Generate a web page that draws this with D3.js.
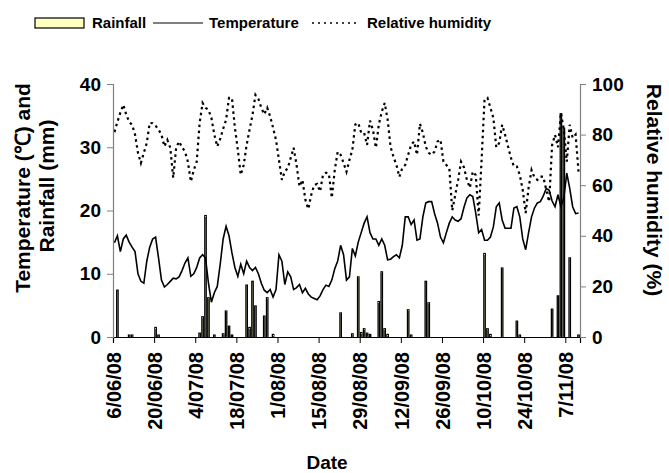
<!DOCTYPE html>
<html>
<meta charset="utf-8">
<head>
  <script src="https://d3js.org/d3.v7.min.js"></script>
  <style>
    body { margin: 0; background: #fff; }
    text { font-family: "Liberation Sans", Arial, sans-serif; font-weight: bold; fill: #000; }
  </style>
</head>
<body>
<div id="chart"></div>
<script>

var startDate = new Date(2008, 5, 6);
var endDate = new Date(2008, 10, 12);

// daily values, 6/06/08 .. 11/11/08
var temperature = [
  14.9, 16, 13.5, 15.5, 16.1, 15, 14.2, 13.5, 10, 8.8,
  8.5, 12, 14.2, 15.5, 15.8, 12.5, 9, 7.9, 8.3, 8.8,
  9.3, 9.2, 9.5, 10.5, 11.7, 12.5, 9.6, 10, 11, 12.5,
  13, 12.5, 8.5, 5.5, 7, 8, 11.5, 15.5, 17.5, 16,
  13.3, 11, 9.6, 11.5, 10, 12, 11, 10.5, 11, 10,
  8.5, 7.4, 7, 7.5, 6.3, 7.5, 13, 12, 8.3, 10.3,
  9.5, 7.5, 7.8, 8.3, 7, 7.7, 6.8, 6.3, 6.1, 5.9,
  6.5, 7.5, 8.2, 8, 9, 10.8, 12, 14.5, 13, 9,
  9.5, 14, 12.8, 15, 16.5, 18, 19, 16.5, 15.5, 15.5,
  14.5, 15.5, 14.5, 12.2, 12.3, 12.7, 13, 12.5, 14.5, 19,
  19, 17.8, 18.5, 15.3, 15.5, 19, 21.2, 21.4, 21.4, 19.5,
  18, 15.8, 14.9, 16.5, 18, 19, 18.5, 18.3, 18.7, 20.5,
  22, 22.5, 22.2, 19.6, 16.5, 17, 15.3, 15.3, 15.8, 17.4,
  20.6, 21.2, 18.5, 17.2, 17.2, 17.2, 20.4, 20.6, 19, 15.5,
  13.8, 16.5, 19, 20.4, 21.2, 21.4, 22.3, 23.5, 23.2, 21.5,
  20.6, 22.5, 20.6, 22, 25.9, 23.5, 20.6, 19.5, 19.6
];

var humidity = [
  81, 85, 88.7, 91.8, 88, 85, 83.9, 80, 72.8, 68.8,
  72.8, 76.7, 84.6, 84.5, 83.5, 82, 80, 75.3, 77.9, 74.8,
  62.9, 74.8, 77.3, 75, 73.3, 69.3, 61.4, 66, 69.3, 84.6,
  92.5, 90.6, 89.8, 86.6, 80, 75.3, 78.3, 82.3, 85.8, 94.5,
  94.5, 82.7, 74, 64.1, 68, 75.9, 82, 87.8, 95.7, 94.1,
  90.6, 88, 90.6, 87.2, 82.7, 77.9, 70, 62.1, 65.4, 66.8,
  70.8, 74.8, 68, 59.5, 62.1, 54.2, 50.6, 56.2, 60.1, 60.5,
  57.5, 64.1, 64.9, 64.5, 55, 66, 73.2, 72, 68.8, 65.3,
  70, 74, 84, 84.6, 80.7, 80.7, 75.9, 85.5, 81.9, 74.8,
  83.9, 89, 92.5, 86, 75.2, 71.2, 68, 63.3, 66.8, 68,
  72, 75.9, 77.3, 72, 84.3, 80.7, 75.2, 72.8, 72, 73.3,
  77.3, 78, 69.3, 68, 66.8, 50, 56, 62.1, 69.3, 67,
  62.1, 59, 65.4, 64, 48, 70, 94, 94.5, 90.6, 86.6,
  75, 76.7, 83.9, 79.9, 75.3, 70.8, 67.4, 67.4, 64.1, 58.1,
  49, 59, 66, 63, 62.1, 63.4, 63.4, 58.1, 53.5, 75.9,
  79.9, 75, 88.6, 81.9, 69.3, 83.9, 78.7, 80, 65.4
];

var rainfall = [
  0, 7.4, 0, 0, 0, 0.3, 0.3, 0, 0, 0,
  0, 0, 0, 0, 1.5, 0.3, 0, 0, 0, 0,
  0, 0, 0, 0, 0, 0, 0, 0, 0, 0.6,
  3.2, 19.2, 6.2, 0, 0.3, 0, 0, 0.5, 4.1, 1.7,
  0.3, 0, 0, 0, 0, 8.2, 1.5, 8.8, 4.9, 0,
  0, 3.3, 6.2, 0, 0.4, 0, 0, 0, 0, 0,
  0, 0, 0, 0, 0, 0, 0, 0, 0, 0,
  0, 0, 0, 0, 0, 0, 0, 3.8, 0, 0,
  0, 0.5, 0, 9.5, 0.7, 1.3, 0.6, 0.4, 0, 0,
  5.6, 10.3, 1.3, 0.4, 0, 0, 0, 0, 0, 0,
  4.3, 0.3, 0, 0, 0, 0, 8.8, 5.4, 0, 0,
  0, 0, 0, 0, 0, 0, 0, 0, 0, 0,
  0, 0, 0, 0, 0, 0, 13.2, 1.3, 0.4, 0,
  0, 0, 10.9, 0, 0, 0, 0, 2.5, 0.3, 0,
  0, 0, 0, 0, 0, 0, 0, 0, 0, 4.4,
  0, 6.5, 35.3, 33, 0, 12.5, 0, 0, 0.3
];

var leftTicks = [0, 10, 20, 30, 40];
var rightTicks = [0, 20, 40, 60, 80, 100];

var width = 669, height = 473;
var plotL = 113, plotR = 580, plotT = 84, plotB = 337;

var days = d3.timeDay.range(startDate, endDate);
var data = days.map(function(d, i) {
  return { date: d, mid: d3.timeHour.offset(d, 12), temp: temperature[i], rh: humidity[i], rain: rainfall[i] };
});

var x = d3.scaleTime().domain([startDate, endDate]).range([plotL, plotR]);
var yLeft = d3.scaleLinear().domain([0, 40]).range([plotB, plotT]);
var yRight = d3.scaleLinear().domain([0, 100]).range([plotB, plotT]);
var dayW = x(d3.timeDay.offset(startDate, 1)) - x(startDate);

var svg = d3.select("#chart").append("svg")
  .attr("width", width)
  .attr("height", height);

// rainfall bars (narrow, so the black outline fills them)
svg.append("g").selectAll("rect")
  .data(data.filter(function(d) { return d.rain > 0; }))
  .enter()
  .append("rect")
  .attr("x", function(d) { return x(d.mid) - dayW * 0.24; })
  .attr("y", function(d) { return yLeft(d.rain); })
  .attr("width", dayW * 0.48)
  .attr("height", function(d) { return plotB - yLeft(d.rain); })
  .attr("fill", "#ffffc0")
  .attr("stroke", "#000")
  .attr("stroke-width", 1.3);

var tempLine = d3.line()
  .x(function(d) { return x(d.mid); })
  .y(function(d) { return yLeft(d.temp); });

var rhLine = d3.line()
  .x(function(d) { return x(d.mid); })
  .y(function(d) { return yRight(d.rh); });

svg.append("path")
  .attr("d", rhLine(data))
  .attr("fill", "none")
  .attr("stroke", "#000")
  .attr("stroke-width", 2.2)
  .attr("stroke-dasharray", "2.5,3.5");

svg.append("path")
  .attr("d", tempLine(data))
  .attr("fill", "none")
  .attr("stroke", "#000")
  .attr("stroke-width", 1.6);

// axes
var xAxis = d3.axisBottom(x)
  .tickValues(d3.timeDay.range(startDate, endDate, 14))
  .tickFormat(d3.timeFormat("%-d/%m/%y"))
  .tickSize(6);

var gx = svg.append("g")
  .attr("transform", "translate(0," + plotB + ")")
  .call(xAxis);
gx.select(".domain").attr("stroke", "#000").attr("stroke-width", 1.2);
gx.selectAll(".tick line").attr("stroke", "#000");
gx.selectAll("text")
  .style("font-size", "20px")
  .attr("transform", "rotate(-90)")
  .attr("text-anchor", "end")
  .attr("x", -15)
  .attr("y", 0)
  .attr("dy", "0.36em");

var gl = svg.append("g")
  .attr("transform", "translate(" + plotL + ",0)")
  .call(d3.axisLeft(yLeft).tickValues(leftTicks).tickSize(6).tickPadding(6));
gl.select(".domain").attr("stroke", "#808080").attr("stroke-width", 1.2);
gl.selectAll(".tick line").attr("stroke", "#808080");
gl.selectAll("text").style("font-size", "19px");

var gr = svg.append("g")
  .attr("transform", "translate(" + plotR + ",0)")
  .call(d3.axisRight(yRight).tickValues(rightTicks).tickSize(6).tickPadding(6));
gr.select(".domain").attr("stroke", "#808080").attr("stroke-width", 1.2);
gr.selectAll(".tick line").attr("stroke", "#808080");
gr.selectAll("text").style("font-size", "19px");

// axis titles
svg.append("text")
  .attr("transform", "translate(22,188) rotate(-90)")
  .attr("text-anchor", "middle")
  .attr("dy", "0.36em")
  .style("font-size", "21px")
  .text("Temperature (℃) and");

svg.append("text")
  .attr("transform", "translate(46,186) rotate(-90)")
  .attr("text-anchor", "middle")
  .attr("dy", "0.36em")
  .style("font-size", "21px")
  .text("Rainfall (mm)");

svg.append("text")
  .attr("transform", "translate(655,190) rotate(90)")
  .attr("text-anchor", "middle")
  .attr("dy", "0.36em")
  .style("font-size", "21px")
  .text("Relative humidity (%)");

svg.append("text")
  .attr("x", 327)
  .attr("y", 469)
  .attr("text-anchor", "middle")
  .style("font-size", "19px")
  .text("Date");

// legend
var legend = svg.append("g").attr("transform", "translate(0,23)");
legend.append("rect")
  .attr("x", 35).attr("y", -5).attr("width", 49).attr("height", 10)
  .attr("fill", "#ffffc0").attr("stroke", "#000").attr("stroke-width", 1.2);
legend.append("text").attr("x", 92).attr("dy", "0.36em").style("font-size", "15px").text("Rainfall");
legend.append("line")
  .attr("x1", 153).attr("x2", 203).attr("y1", 0).attr("y2", 0)
  .attr("stroke", "#000").attr("stroke-width", 1.2);
legend.append("text").attr("x", 209).attr("dy", "0.36em").style("font-size", "15px").text("Temperature");
legend.append("line")
  .attr("x1", 312).attr("x2", 360).attr("y1", 0).attr("y2", 0)
  .attr("stroke", "#000").attr("stroke-width", 1.5).attr("stroke-dasharray", "2,4");
legend.append("text").attr("x", 367).attr("dy", "0.36em").style("font-size", "15px").text("Relative humidity");

</script>
</body>
</html>
